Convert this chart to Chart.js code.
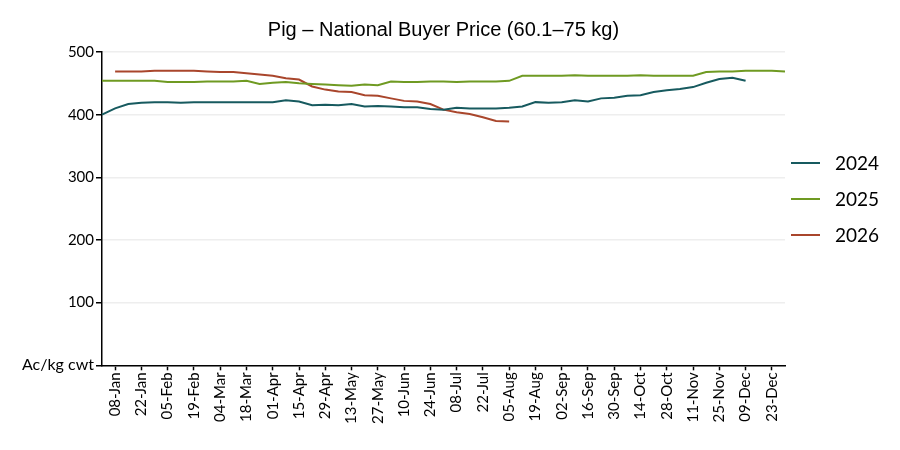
<!DOCTYPE html>
<html>
<head>
    <title>Pig - National Buyer Price</title>
    <script src="https://cdn.jsdelivr.net/npm/chart.js"></script>
    <style>
        body {
            margin: 0;
            background: white;
        }
        .chart-container {
            width: 900px;
            height: 450px;
        }
    </style>
</head>
<body>
    <div class="chart-container">
        <canvas id="pigChart"></canvas>
    </div>

    <script>
        // Week labels (every Monday)
        const weeks = [
            '01-Jan', '08-Jan', '15-Jan', '22-Jan', '29-Jan', '05-Feb', '12-Feb', '19-Feb', '26-Feb',
            '04-Mar', '11-Mar', '18-Mar', '25-Mar', '01-Apr', '08-Apr', '15-Apr', '22-Apr', '29-Apr',
            '06-May', '13-May', '20-May', '27-May', '03-Jun', '10-Jun', '17-Jun', '24-Jun', '01-Jul',
            '08-Jul', '15-Jul', '22-Jul', '29-Jul', '05-Aug', '12-Aug', '19-Aug', '26-Aug', '02-Sep',
            '09-Sep', '16-Sep', '23-Sep', '30-Sep', '07-Oct', '14-Oct', '21-Oct', '28-Oct', '04-Nov',
            '11-Nov', '18-Nov', '25-Nov', '02-Dec', '09-Dec', '16-Dec', '23-Dec', '30-Dec'
        ];

        const prices2024 = [
            400, 410, 417, 419, 420, 420, 419, 420, 420, 420, 420, 420, 420, 420, 423, 421, 415, 416,
            415, 417, 413, 414, 413, 412, 412, 409, 408, 411, 410, 410, 410, 411, 413, 420, 419, 420,
            423, 421, 426, 427, 430, 431, 436, 439, 441, 444, 451, 457, 459, 454
        ];

        const prices2025 = [
            454, 454, 454, 454, 454, 452, 452, 452, 453, 453, 453, 454, 449, 451, 452, 450, 449, 448,
            447, 446, 448, 447, 453, 452, 452, 453, 453, 452, 453, 453, 453, 454, 462, 462, 462, 462,
            463, 462, 462, 462, 462, 463, 462, 462, 462, 462, 468, 469, 469, 470, 470, 470, 469
        ];

        const prices2026 = [
            null, 469, 469, 469, 470, 470, 470, 470, 469, 468, 468, 466, 464, 462, 458, 456, 445, 440,
            437, 436, 431, 430, 426, 422, 421, 417, 408, 404, 401, 396, 390, 389
        ];

        const yTicks = [0, 100, 200, 300, 400, 500];
        const unitLabel = 'Ac/kg cwt';
        const chartTitle = 'Pig \u2013 National Buyer Price (60.1\u201375 kg)';

        const colors = {
            y2024: '#175a5f',
            y2025: '#6f9a22',
            y2026: '#a9462c'
        };

        const tickFont = { family: 'Lato', size: 15 };

        // Title centred over the plot area + legend on the right
        const decorPlugin = {
            id: 'decor',
            afterDraw(chart) {
                const ctx = chart.ctx;
                const area = chart.chartArea;
                ctx.save();
                ctx.fillStyle = '#000';
                ctx.font = '20px "Liberation Sans", Arial, sans-serif';
                ctx.textAlign = 'center';
                ctx.textBaseline = 'middle';
                ctx.fillText(chartTitle, (area.left + area.right) / 2, 30);

                ctx.font = '19px Lato, sans-serif';
                ctx.textAlign = 'left';
                chart.data.datasets.forEach((ds, i) => {
                    const y = 163 + i * 36;
                    ctx.strokeStyle = ds.borderColor;
                    ctx.lineWidth = 2;
                    ctx.beginPath();
                    ctx.moveTo(791, y);
                    ctx.lineTo(820, y);
                    ctx.stroke();
                    ctx.fillStyle = '#000';
                    ctx.fillText(ds.label, 835, y + 1);
                });
                ctx.restore();
            }
        };

        const ctx = document.getElementById('pigChart').getContext('2d');
        new Chart(ctx, {
            type: 'line',
            data: {
                labels: weeks,
                datasets: [
                    { label: '2024', data: prices2024, borderColor: colors.y2024 },
                    { label: '2025', data: prices2025, borderColor: colors.y2025 },
                    { label: '2026', data: prices2026, borderColor: colors.y2026 }
                ]
            },
            options: {
                responsive: true,
                maintainAspectRatio: false,
                animation: false,
                elements: {
                    line: { borderWidth: 2, tension: 0 },
                    point: { radius: 0 }
                },
                layout: {
                    padding: { top: 52, right: 115, left: 20, bottom: 24 }
                },
                plugins: {
                    legend: { display: false },
                    title: { display: false },
                    tooltip: { enabled: false }
                },
                scales: {
                    x: {
                        offset: false,
                        afterBuildTicks: (scale) => {
                            // only every second week gets a tick
                            scale.ticks = scale.ticks.filter(t => t.value % 2 === 1);
                        },
                        ticks: {
                            autoSkip: false,
                            maxRotation: 90,
                            minRotation: 90,
                            color: '#000',
                            font: tickFont,
                            padding: 2
                        },
                        grid: {
                            drawOnChartArea: false,
                            drawTicks: true,
                            tickLength: 5,
                            tickColor: '#000',
                            tickWidth: 1.5
                        },
                        border: { color: '#000', width: 1.5 }
                    },
                    y: {
                        min: 0,
                        max: 500,
                        afterBuildTicks: (scale) => {
                            scale.ticks = yTicks.map(v => ({ value: v }));
                        },
                        ticks: {
                            color: '#000',
                            font: (c) => (c.tick && c.tick.value === 0)
                                ? { family: 'Lato', size: 16 }
                                : tickFont,
                            padding: 2,
                            callback: (v) => v === 0 ? unitLabel : v
                        },
                        grid: {
                            color: '#eeeeee',
                            lineWidth: 1.5,
                            tickLength: 6,
                            tickColor: '#000',
                            tickWidth: 1.5
                        },
                        border: { color: '#000', width: 1.5 }
                    }
                }
            },
            plugins: [decorPlugin]
        });
    </script>
</body>
</html>
